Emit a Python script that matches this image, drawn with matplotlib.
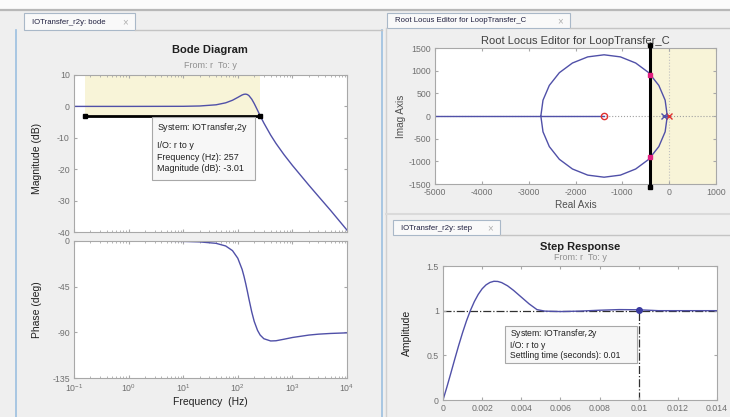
import matplotlib
matplotlib.use("Agg")
import matplotlib.pyplot as plt
from matplotlib.patches import Rectangle
from matplotlib.lines import Line2D

# closed-loop r->y, values
freq_hz = [0.1, 1, 10, 20, 40, 60, 80, 100, 120, 130, 140, 150, 160, 180, 200,
           230, 257, 300, 400, 500, 700, 1000, 2000, 3000, 5000, 10000]
mag_db = [0.0, 0.0, 0.03, 0.13, 0.51, 1.14, 1.96, 2.87, 3.64, 3.86, 3.91, 3.77, 3.43,
          2.31, 0.90, -1.24, -3.01, -5.29, -9.14, -11.78, -15.34, -18.79, -25.08,
          -28.65, -33.11, -39.4]
phase_deg = [0.0, -0.04, -0.41, -0.88, -2.3, -4.9, -9.5, -17.0, -28.0, -34.9, -42.3,
             -49.8, -57.2, -69.9, -79.3, -88.1, -92.7, -96.3, -98.5, -98.3, -96.8,
             -95.1, -92.7, -91.8, -91.1, -90.5]
bw_hz = 257
bw_db = -3.01
bw_start_hz = 0.16

# root locus (upper half of the circle, mirrored for the lower half)
locus_re = [-40, -86, -221, -435, -715, -1041, -1390, -1739, -2065, -2345, -2559, -2694, -2740]
locus_im = [0, 349, 675, 955, 1169, 1304, 1350, 1304, 1169, 955, 675, 349, 0]
zero_re = -1390
pole_re = [0, -100]
cl_pole_re = -400
cl_pole_im = 910

# step response
step_t = [0, 0.0002, 0.0004, 0.0006, 0.0008, 0.001, 0.0012, 0.0014, 0.0016, 0.0018,
          0.002, 0.0022, 0.0024, 0.0026, 0.0028, 0.003, 0.0033, 0.0036, 0.004, 0.0044,
          0.0048, 0.0052, 0.006, 0.007, 0.008, 0.009, 0.01, 0.011, 0.012, 0.013, 0.014]
step_y = [0, 0.146, 0.300, 0.457, 0.610, 0.754, 0.886, 1.002, 1.101, 1.182, 1.245,
          1.289, 1.316, 1.329, 1.327, 1.314, 1.278, 1.228, 1.152, 1.076, 1.012, 0.995,
          0.99, 0.995, 1.005, 1.012, 1.01, 1.0, 1.0, 1.0, 1.0]
settle_t = 0.01
settle_y = 1.01
step_xticks = [0, 0.002, 0.004, 0.006, 0.008, 0.01, 0.012, 0.014]
step_xlabels = ["0", "0.002", "0.004", "0.006", "0.008", "0.01", "0.012", "0.014"]

W, H = 730, 417
LINE = "#5050a8"
TICK = "#707070"
SPINE = "#a8a8a8"
SHADE = "#f8f4d8"
TS = 6.3

plt.rcParams["font.family"] = ["Liberation Sans", "DejaVu Sans"]
plt.rcParams["mathtext.fontset"] = "custom"
plt.rcParams["mathtext.rm"] = "Liberation Sans"
plt.rcParams["mathtext.it"] = "Liberation Sans:italic"
plt.rcParams["axes.unicode_minus"] = False


def box(x0, y0, x1, y1):
    return [x0 / W, 1 - y1 / H, (x1 - x0) / W, (y1 - y0) / H]


def fx(x):
    return x / W


def fy(y):
    return 1 - y / H


def style(ax):
    ax.set_facecolor("white")
    for s in ax.spines.values():
        s.set_color(SPINE)
        s.set_linewidth(0.8)
    ax.tick_params(which="both", direction="in", top=True, right=True,
                   colors=SPINE, labelcolor=TICK, labelsize=TS, length=2.5, pad=3)
    ax.tick_params(which="minor", length=1.5)


fig = plt.figure(figsize=(7.3, 4.17), dpi=100)
fig.patch.set_facecolor("#efefef")


def frect(x0, y0, x1, y1, fc, ec="none", lw=0.8, z=0.5):
    fig.add_artist(Rectangle((fx(x0), fy(y1)), (x1 - x0) / W, (y1 - y0) / H,
                             transform=fig.transFigure, fc=fc, ec=ec, lw=lw, zorder=z))


def fline(xs, ys, color, lw=1.0, z=0.6):
    fig.add_artist(Line2D([fx(x) for x in xs], [fy(y) for y in ys],
                          transform=fig.transFigure, color=color, lw=lw, zorder=z))


# window chrome
frect(0, 0, 730, 10, "#fbfbfb")
fline([0, 730], [10, 10], "#b8b8b8", lw=1.6)
fline([16, 16], [30, 417], "#9cbfe0", lw=1.2)
fline([382, 382], [30, 417], "#9cbfe0", lw=1.2)
fline([135, 382], [30, 30], "#c4c4c4")
fline([386, 386], [28, 417], "#d0d0d0")
fline([570, 730], [28, 28], "#c4c4c4")
fline([500, 730], [235, 235], "#c4c4c4")
fline([386, 730], [214, 214], "#dadada", lw=1.5)

tabs = [(24, 13, 135, 30, "IOTransfer_r2y: bode"),
        (387, 13, 570, 28, "Root Locus Editor for LoopTransfer_C"),
        (393, 220, 500, 235, "IOTransfer_r2y: step")]
for x0, y0, x1, y1, label in tabs:
    frect(x0, y0, x1, y1, "#f9f9f9", ec="#a9b8c8", lw=0.8)
    fig.text(fx(x0 + 8), fy((y0 + y1) / 2 + 0.5), label, fontsize=5.6, color="#202040",
             va="center", ha="left")
    fig.text(fx(x1 - 10), fy((y0 + y1) / 2 + 0.5), "\u00d7", fontsize=7, color="#b0b0b0",
             va="center", ha="center")

# Bode magnitude
ax_m = fig.add_axes(box(74, 75, 347, 232))
style(ax_m)
ax_m.add_patch(Rectangle((bw_start_hz, bw_db), bw_hz - bw_start_hz, 10 - bw_db,
                         fc=SHADE, ec="none", zorder=0.5))
ax_m.semilogx(freq_hz, mag_db, color=LINE, lw=1.0, zorder=2)
ax_m.plot([bw_start_hz, bw_hz], [bw_db, bw_db], color="black", lw=2.0,
          marker="s", ms=2.5, zorder=3)
ax_m.set_xlim(0.1, 10000)
ax_m.set_ylim(-40, 10)
ax_m.set_yticks([-40, -30, -20, -10, 0, 10])
ax_m.tick_params(labelbottom=False)
ax_m.set_ylabel("Magnitude (dB)", fontsize=7.5, color="#202020")
ax_m.yaxis.set_label_coords(-0.117, 0.47)

# Bode phase
ax_p = fig.add_axes(box(74, 241, 347, 378))
style(ax_p)
ax_p.semilogx(freq_hz, phase_deg, color=LINE, lw=1.0)
ax_p.set_xlim(0.1, 10000)
ax_p.set_ylim(-135, 0)
ax_p.set_yticks([-135, -90, -45, 0])
ax_p.set_ylabel("Phase (deg)", fontsize=7.5, color="#202020")
ax_p.yaxis.set_label_coords(-0.117, 0.5)
ax_p.set_xlabel("Frequency  (Hz)", fontsize=7.5, color="#202020", labelpad=2)

fig.text(fx(210), fy(50), "Bode Diagram", fontsize=8, fontweight="bold",
         ha="center", va="center", color="#202020")
fig.text(fx(210), fy(66), "From: r  To: y", fontsize=6.5, ha="center", va="center",
         color="#909090")

# Bode data tip
frect(152, 117, 255, 180, "#f7f7f7", ec="#a8a8a8", lw=0.8, z=5)
tip = ["System: IOTransfer$_{\\rm r}$2y", "I/O: r to y", "Frequency (Hz): 257",
       "Magnitude (dB): -3.01"]
for txt, y in zip(tip, [128, 145, 157, 169]):
    fig.text(fx(157), fy(y), txt, fontsize=6.4, ha="left", va="center",
             color="#202020", zorder=6)

# Root locus
ax_r = fig.add_axes(box(435, 48, 716, 184))
style(ax_r)
ax_r.axvspan(cl_pole_re, 1000, color=SHADE, zorder=0.5)
ax_r.axhline(0, color="#a0a0a0", ls=":", lw=0.8, zorder=1)
ax_r.axvline(0, color="#c0c0c0", ls=":", lw=0.8, zorder=1)
ax_r.plot(locus_re, locus_im, color=LINE, lw=1.0, zorder=2)
ax_r.plot(locus_re, [-v for v in locus_im], color=LINE, lw=1.0, zorder=2)
ax_r.plot([-5000, zero_re], [0, 0], color=LINE, lw=1.0, zorder=2)
ax_r.plot([pole_re[1], pole_re[0]], [0, 0], color=LINE, lw=1.0, zorder=2)
ax_r.plot([cl_pole_re, cl_pole_re], [-1560, 1560], color="black", lw=2.2,
          marker="s", ms=2.5, clip_on=False, zorder=3)
ax_r.plot([zero_re], [0], "o", mfc="none", mec="#e03030", ms=4.5, mew=1.0, zorder=4)
ax_r.plot([pole_re[0]], [0], "x", color="#e03030", ms=5, mew=1.0, zorder=4)
ax_r.plot([pole_re[1]], [0], "x", color=LINE, ms=4, mew=1.0, zorder=4)
ax_r.plot([cl_pole_re, cl_pole_re], [cl_pole_im, -cl_pole_im], "s", color="#e0207f",
          ms=3.5, zorder=5)
ax_r.set_xlim(-5000, 1000)
ax_r.set_ylim(-1500, 1500)
ax_r.set_xticks(range(-5000, 1001, 1000))
ax_r.set_yticks(range(-1500, 1501, 500))
ax_r.set_xlabel("Real Axis", fontsize=7.2, color="#505050", labelpad=2)
ax_r.set_ylabel("Imag Axis", fontsize=7.2, color="#505050", labelpad=2)
ax_r.set_title("Root Locus Editor for LoopTransfer_C", fontsize=8, color="#404040",
               pad=3)

# Step response
ax_s = fig.add_axes(box(443, 266, 717, 400))
style(ax_s)
ax_s.axhline(1, color="#303030", ls="-.", lw=0.9, zorder=1)
ax_s.plot([settle_t, settle_t], [0, settle_y], color="#303030", ls="-.", lw=0.9, zorder=1)
ax_s.plot(step_t, step_y, color=LINE, lw=1.0, zorder=2)
ax_s.plot([settle_t], [settle_y], "o", color="#3a3aa0", ms=4, zorder=3)
ax_s.set_xlim(0, 0.014)
ax_s.set_ylim(0, 1.5)
ax_s.set_xticks(step_xticks)
ax_s.set_xticklabels(step_xlabels)
ax_s.set_yticks([0, 0.5, 1, 1.5])
ax_s.set_yticklabels(["0", "0.5", "1", "1.5"])
ax_s.set_ylabel("Amplitude", fontsize=7.5, color="#202020")
ax_s.yaxis.set_label_coords(-0.115, 0.5)

fig.text(fx(580), fy(247), "Step Response", fontsize=8, fontweight="bold",
         ha="center", va="center", color="#202020")
fig.text(fx(580), fy(257), "From: r  To: y", fontsize=6.5, ha="center", va="center",
         color="#909090")

frect(505, 326, 637, 363, "#f7f7f7", ec="#a8a8a8", lw=0.8, z=5)
tip = ["System: IOTransfer$_{\\rm r}$2y", "I/O: r to y", "Settling time (seconds): 0.01"]
for txt, y in zip(tip, [334, 346, 356]):
    fig.text(fx(510), fy(y), txt, fontsize=6.2, ha="left", va="center",
             color="#202020", zorder=6)

fig.savefig("out.png", dpi=100, facecolor=fig.get_facecolor())
